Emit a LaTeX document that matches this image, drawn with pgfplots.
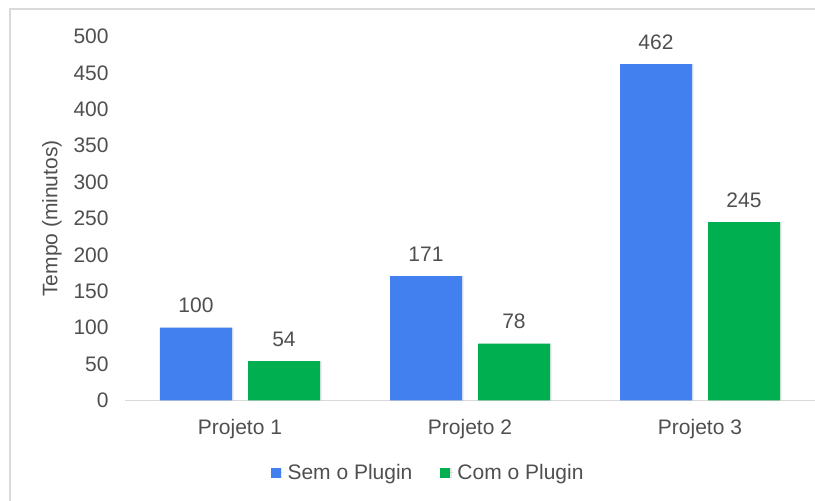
\documentclass[border=0pt]{standalone}
\usepackage{pgfplots}
\pgfplotsset{compat=1.18}
\usetikzlibrary{shadows}
\usepackage{fontspec}
\setmainfont{Liberation Sans}
\definecolor{barblue}{HTML}{4180EE}
\definecolor{bargreen}{HTML}{00AF50}
\definecolor{txt}{HTML}{4F4F4F}
\definecolor{lgray}{HTML}{D9D9D9}
\begin{document}
\begin{tikzpicture}
\useasboundingbox (0,0) rectangle (407.5pt,250.5pt);
\draw[lgray, line width=0.8pt] (5pt,0pt) -- (5pt,245.85pt) -- (407.5pt,245.85pt);
\begin{axis}[
  at={(62.5pt,50.25pt)}, anchor=south west,
  scale only axis, width=345pt, height=182pt,
  xmin=-0.5, xmax=2.5, ymin=0, ymax=500,
  ybar=8pt, bar width=36pt,
  axis x line*=bottom, axis y line*=left,
  y axis line style={draw=none},
  x axis line style={lgray, line width=0.6pt},
  xtick={0,1,2}, xticklabels={Projeto 1,Projeto 2,Projeto 3},
  ytick={0,50,...,500},
  major tick length=0pt,
  tick style={draw=none},
  /pgf/number format/assume math mode=true,
  ticklabel style={font=\fontsize{10.5}{12}\selectfont, text=txt},
  yticklabel style={anchor=east, inner sep=0pt, xshift=-8pt},
  xticklabel style={anchor=base, yshift=-17.25pt},
  every axis y label/.style={at={(axis description cs:-0.1058,0.5)}, rotate=90, anchor=center},
  ylabel={Tempo (minutos)},
  label style={font=\fontsize{10.5}{12}\selectfont, text=txt},
  nodes near coords,
  every node near coord/.append style={font=\fontsize{10.5}{12}\selectfont, text=txt, anchor=base, yshift=7.5pt},
  clip=false,
  legend style={at={(axis description cs:0.4406,-0.199)}, anchor=center, draw=none, fill=none,
    font=\fontsize{10.5}{12}\selectfont, text=txt, legend columns=2,
    /tikz/every even column/.append style={column sep=12pt},
    inner sep=0pt},
  legend image code/.code={\fill[#1] (0pt,-2.5pt) rectangle (5pt,2.5pt); \path (0pt,0pt) -- (6.5pt,0pt);},
]
\addplot[fill=barblue, draw=none, drop shadow={shadow xshift=0.8pt, shadow yshift=0pt, opacity=0.18}] coordinates {(0,100) (1,171) (2,462)};
\addplot[fill=bargreen, draw=none, drop shadow={shadow xshift=0.8pt, shadow yshift=0pt, opacity=0.18}] coordinates {(0,54) (1,78) (2,245)};
\legend{Sem o Plugin, Com o Plugin}
\end{axis}
\end{tikzpicture}
\end{document}
